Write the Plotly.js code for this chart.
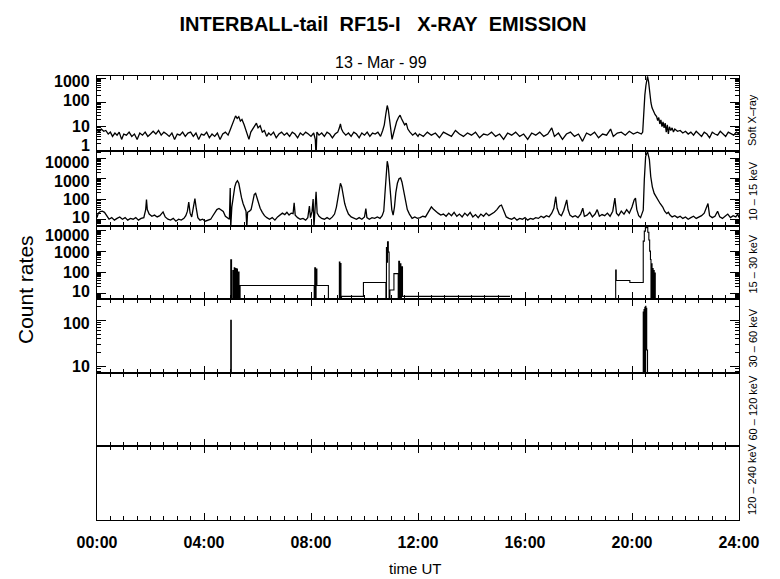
<!DOCTYPE html>
<html><head><meta charset="utf-8">
<script src="https://cdn.plot.ly/plotly-3.0.1.min.js"></script>
<style>html,body{margin:0;padding:0;background:#fff}#chart{width:780px;height:579px}</style>
</head><body><div id="chart"></div>
<script>
// ---- tick labels / categories ----
const hourTicks = [0,4,8,12,16,20,24];
const hourLabels = ['00:00','04:00','08:00','12:00','16:00','20:00','24:00'];
const bandNames = ['Soft X\u2013ray','10 \u2013 15 keV','15 \u2013 30 keV','30 \u2013 60 keV','60 \u2013 120 keV','120 \u2013 240 keV'];
const softTicks = [1,10,100,1000];
const lowTicks = [10,100,1000,10000];
const midTicks = [10,100,1000,10000];
const highTicks = [10,100];

// ---- Soft X-ray (hours, counts) ----
const softT = [0.00,0.08,0.16,0.25,0.33,0.42,0.50,0.58,0.67,0.75,0.83,0.92,1.00,1.10,1.20,1.30,1.40,1.50,1.60,1.70,1.80,1.90,2.00,2.10,2.20,2.30,2.40,2.50,2.60,2.70,2.80,2.90,3.00,3.10,3.20,3.30,3.40,3.50,3.60,3.70,3.80,3.90,4.00,4.10,4.20,4.30,4.40,4.50,4.60,4.70,4.80,4.90,4.97,5.05,5.12,5.18,5.24,5.30,5.36,5.42,5.50,5.56,5.62,5.68,5.75,5.82,5.90,5.96,6.02,6.10,6.18,6.26,6.34,6.42,6.50,6.60,6.70,6.80,6.90,7.00,7.10,7.20,7.30,7.40,7.50,7.60,7.70,7.80,7.90,8.00,8.10,8.16,8.19,8.22,8.30,8.40,8.50,8.60,8.70,8.80,8.90,9.00,9.06,9.10,9.14,9.20,9.30,9.40,9.50,9.60,9.70,9.80,9.90,10.00,10.10,10.20,10.30,10.40,10.50,10.60,10.68,10.74,10.80,10.85,10.89,10.93,10.98,11.03,11.08,11.14,11.20,11.27,11.33,11.38,11.44,11.50,11.56,11.62,11.70,11.80,11.90,12.00,12.05,12.20,12.35,12.50,12.65,12.80,12.95,13.10,13.25,13.40,13.55,13.70,13.85,14.00,14.15,14.30,14.45,14.60,14.75,14.90,15.05,15.20,15.35,15.50,15.65,15.80,15.95,16.10,16.25,16.40,16.55,16.70,16.85,17.00,17.10,17.25,17.40,17.55,17.70,17.85,18.00,18.15,18.30,18.45,18.60,18.75,18.90,19.05,19.20,19.30,19.45,19.60,19.75,19.90,20.05,20.20,20.35,20.40,20.44,20.48,20.52,20.58,20.62,20.65,20.68,20.71,20.75,20.80,20.86,20.92,20.96,21.00,21.04,21.08,21.12,21.16,21.20,21.24,21.28,21.32,21.36,21.40,21.45,21.50,21.55,21.60,21.70,21.80,21.90,22.00,22.10,22.20,22.30,22.40,22.50,22.60,22.70,22.80,22.90,23.00,23.10,23.20,23.30,23.40,23.50,23.60,23.70,23.80,23.90,24.00];
const softV = [7,6,8,6.5,7,5,6,4,5.5,4.5,6,3,5,4.5,6,4,5,3,5.5,4.5,6,4,5,6.5,5,7,4.5,6,5,4,5.5,3,5,4.5,6,4,5.5,6,4,5.5,3,5,4.5,6,3.5,5,4,5.5,3,5,6,4.5,7,12,20,28,22,26,17,20,12,8,5,3,6,8,11,14,9,11,6,7,4,5.5,4.5,6,3.5,5,6,4.5,5.5,4,6,5,3.5,5.5,4.5,6,5,4,5.5,3,0.6,6,4.5,5.5,4,6,5,3.5,5,6,9,13,8,6,4.5,5.5,4,6,5,3.5,5.5,4.5,6,4,5.5,5,6,4,7,12,35,75,50,25,9,3,5,9,16,24,30,22,16,12,14,8,6,4.5,5.5,4,5,4,6,4.5,5.5,3.5,6,5,4,7,5,4,5.5,4.5,6,3.5,5,4.5,6,4,5,3,5.5,4.5,6,4,5,3,5.5,4.5,6,4,5,9,4,5.5,3,5,6,4,5,2.5,5.5,4.5,6,3.5,5,4.5,8,4,5.5,6,4.5,6.5,5,6,5,6,50,200,500,1200,700,330,180,95,60,42,32,26,18,24,13,19,10,16,9,14,6,12,5,10,7,9,6,8,6.5,7,5.5,6.5,5,6,4.5,6.5,5,4,6,5,3.5,6,5,4.5,6.5,5,4,6,5,4.5,6,5];

// ---- 10 - 15 keV ----
const lowT = [0.00,0.05,0.12,0.20,0.28,0.36,0.45,0.55,0.65,0.75,0.85,0.95,1.05,1.15,1.25,1.35,1.45,1.55,1.65,1.75,1.82,1.85,1.88,1.95,2.05,2.15,2.25,2.35,2.42,2.47,2.55,2.65,2.75,2.85,2.95,3.05,3.15,3.25,3.32,3.38,3.43,3.48,3.54,3.60,3.66,3.71,3.77,3.85,3.95,4.05,4.15,4.25,4.32,4.40,4.48,4.56,4.64,4.72,4.80,4.88,4.95,4.98,5.00,5.04,5.10,5.15,5.20,5.25,5.30,5.35,5.40,5.46,5.52,5.57,5.60,5.63,5.70,5.76,5.82,5.88,5.93,5.98,6.04,6.10,6.18,6.26,6.35,6.45,6.55,6.65,6.75,6.85,6.93,7.02,7.10,7.18,7.26,7.33,7.37,7.41,7.50,7.60,7.70,7.80,7.88,7.94,7.98,8.04,8.08,8.11,8.15,8.19,8.23,8.30,8.40,8.50,8.60,8.70,8.80,8.88,8.95,9.00,9.05,9.10,9.15,9.20,9.26,9.33,9.40,9.50,9.60,9.70,9.80,9.90,10.00,10.05,10.09,10.18,10.28,10.38,10.48,10.58,10.66,10.72,10.76,10.80,10.85,10.89,10.93,10.97,11.02,11.07,11.12,11.17,11.23,11.29,11.35,11.40,11.45,11.50,11.55,11.60,11.68,11.78,11.88,11.98,12.08,12.18,12.28,12.36,12.44,12.50,12.57,12.65,12.75,12.85,12.95,13.05,13.15,13.25,13.35,13.45,13.55,13.65,13.75,13.85,13.95,14.05,14.15,14.25,14.35,14.45,14.55,14.65,14.75,14.85,14.95,15.05,15.12,15.20,15.30,15.40,15.50,15.60,15.70,15.80,15.90,16.00,16.10,16.20,16.30,16.40,16.50,16.60,16.70,16.80,16.90,17.00,17.08,17.15,17.20,17.28,17.36,17.45,17.52,17.56,17.61,17.68,17.78,17.88,17.98,18.08,18.16,18.22,18.32,18.42,18.52,18.62,18.70,18.78,18.88,18.98,19.08,19.18,19.28,19.36,19.42,19.50,19.60,19.70,19.80,19.90,20.00,20.08,20.13,20.18,20.25,20.32,20.38,20.42,20.46,20.51,20.58,20.65,20.70,20.76,20.83,20.92,21.05,21.15,21.22,21.30,21.36,21.42,21.50,21.60,21.70,21.80,21.90,22.00,22.10,22.20,22.30,22.40,22.50,22.60,22.70,22.78,22.84,22.90,23.00,23.10,23.20,23.28,23.38,23.48,23.58,23.68,23.78,23.88,23.95,24.00];
const lowV = [12,20,24,25,22,14,10,12,9,11,13,10,12,9,11,10,12,9,11,12,30,95,30,18,14,16,13,15,20,23,13,10,9,11,8,10,9,11,15,25,70,20,13,40,105,35,12,9,10,8,9,10,14,22,30,34,28,24,14,11,10,350,4,40,150,400,650,800,600,250,120,60,35,25,4,22,25,30,70,170,190,120,60,35,22,15,12,10,12,9,13,16,20,17,22,16,20,19,65,16,12,10,11,9,12,45,12,25,100,4,60,230,20,14,11,10,12,10,13,18,40,120,350,600,400,150,60,30,18,13,11,10,12,10,13,34,12,10,12,11,13,11,15,25,150,1500,7400,4000,800,120,30,16,40,200,600,1000,1100,700,300,120,60,30,18,11,13,11,12,14,13,20,33,41,32,25,20,16,18,14,20,15,22,14,18,13,20,15,22,13,17,12,18,14,20,15,18,22,30,45,50,25,13,11,10,12,9,11,10,12,9,11,10,12,11,14,12,15,13,20,35,130,35,18,15,28,60,90,30,16,13,15,12,18,35,14,16,22,13,18,30,14,17,15,20,14,25,110,20,15,25,18,30,20,40,90,110,30,15,12,20,28,900,13000,22000,9000,1300,400,190,110,60,40,25,19,22,16,13,15,12,14,11,13,10,12,14,11,13,15,20,40,60,15,12,14,25,13,11,14,18,12,15,13,18,12];

// ---- 15 - 30 keV (step data) ----
const midT = [4.98,5.00,5.03,5.08,5.10,5.13,5.15,5.18,5.20,5.23,5.25,5.28,5.31,5.35,8.12,8.14,8.17,8.19,8.22,8.65,9.06,9.08,9.10,9.12,9.14,9.96,10.80,10.82,10.84,10.86,10.89,10.92,10.95,11.10,11.26,11.28,11.31,11.33,11.36,11.38,11.42,15.44,15.45,19.37,19.39,19.41,19.92,20.42,20.46,20.50,20.55,20.59,20.63,20.66,20.69,20.71,20.73,20.75,20.77,20.79,20.81,20.83,20.85,20.87,20.89];
const midV = [1,390,1,120,1,160,1,150,1,140,1,100,1,23,1,160,1,140,23,1,300,1,260,1,7,32,1,1500,300,2800,900,1,14,85,1,330,1,250,1,180,7,7,null,1,125,40,32,3000,9000,13000,14000,8000,3400,1000,400,1,250,1,150,1,120,1,90,1,null];

// ---- 30 - 60 keV (step data) ----
const highT = [4.98,5.00,5.02,20.42,20.43,20.45,20.46,20.48,20.49,20.51,20.52,20.55,20.58,20.60];
const highV = [1,100,1,150,1,170,1,190,1,200,180,23,1,null];

const yRanges = [[0,3.09],[0.665,4.375],[0.72,4.2],[0.866,2.456]];
const tickSets = [softTicks, lowTicks, midTicks, highTicks];

// ---- layout constants (pixels) ----
const panelEdges = [76,151,226,299,373,446,520];   // panel borders, top to bottom
const PLOT_BOTTOM = 520, PLOT_H = 444;
const labelNudge = [[6,0,1.5,-3.8],[2.2,0,-2.2,-4.4],[2,0,-1.8,-4.8],[0,-3.7]];

const FONT = 'Liberation Sans, Arial, Helvetica, sans-serif';
const black = '#000';
const traces = [
  {x: softT, y: softV, xaxis:'x', yaxis:'y', mode:'lines', line:{color:black,width:1.3}},
  {x: lowT, y: lowV, xaxis:'x2', yaxis:'y2', mode:'lines', line:{color:black,width:1.3}},
  {x: midT, y: midV, xaxis:'x3', yaxis:'y3', mode:'lines', line:{color:black,width:1.1,shape:'hv'}, connectgaps:false},
  {x: highT, y: highV, xaxis:'x4', yaxis:'y4', mode:'lines', line:{color:black,width:1.1,shape:'hv'}, connectgaps:false},
  {x: [], y: [], xaxis:'x5', yaxis:'y5', mode:'lines'},
  {x: [], y: [], xaxis:'x6', yaxis:'y6', mode:'lines'}
];

const py = y => (PLOT_BOTTOM - y) / PLOT_H;
const px = x => (x - 97) / 642;

const layout = {
  width:780, height:579,
  margin:{l:97, r:41, t:76, b:59},
  paper_bgcolor:'#fff', plot_bgcolor:'#fff',
  showlegend:false,
  font:{family:FONT, color:black},
  title:{text:'INTERBALL-tail\u00a0\u00a0RF15-I\u00a0\u00a0\u00a0X-RAY\u00a0\u00a0EMISSION',
         font:{family:FONT, size:20, weight:'bold', color:black},
         xref:'container', x:383/780, xanchor:'center', yref:'container', y:1-24/579, yanchor:'middle'},
  annotations:[
    {text:'13 - Mar - 99', xref:'paper', yref:'paper', x:px(381), y:py(62), xanchor:'center', yanchor:'middle', showarrow:false, font:{family:FONT,size:16,color:black}},
    {text:'Count rates', xref:'paper', yref:'paper', x:px(25), y:py(290), xanchor:'center', yanchor:'middle', textangle:-90, showarrow:false, font:{family:FONT,size:21,color:black}},
    {text:'time UT', xref:'paper', yref:'paper', x:px(415), y:py(568), xanchor:'center', yanchor:'middle', showarrow:false, font:{family:FONT,size:15,color:black}}
  ]
};

for (let i = 0; i < 6; i++) {
  const sfx = i === 0 ? '' : String(i+1);
  const top = py(panelEdges[i]), bot = py(panelEdges[i+1]);
  layout['xaxis'+sfx] = {
    domain:[0,1], range:[0,24], anchor:'y'+sfx,
    tickmode:'array', tickvals:hourTicks, ticktext:hourLabels,
    showticklabels: i === 5,
    ticks:'inside', ticklen:7, tickwidth:1, tickcolor:black,
    minor:{tickmode:'linear', tick0:0, dtick:0.5, ticks:'inside', ticklen:4, tickwidth:1, tickcolor:black},
    tickfont:{family:FONT, size:16, weight:'bold', color:black},
    ticklabelstandoff:8,
    showline:true, linecolor:black, linewidth:1, mirror:'ticks',
    showgrid:false, zeroline:false, fixedrange:true
  };
  if (i > 0) layout['xaxis'+sfx].matches = 'x';
  if (i < 4) {
    layout['yaxis'+sfx] = {
      domain:[bot, top], type:'log', range:yRanges[i], anchor:'x'+sfx,
      tickmode:'linear', tick0:0, dtick:1, showticklabels:false,
      ticks:'inside', ticklen:9, tickwidth:1, tickcolor:black,
      minor:{ticks:'inside', ticklen:4, tickwidth:1, tickcolor:black, dtick:'D1'},
      showline:true, linecolor:black, linewidth:1, mirror:'ticks',
      showgrid:false, zeroline:false, fixedrange:true
    };
    tickSets[i].forEach((v, k) => {
      layout.annotations.push({
        text: String(v), xref:'paper', yref:'y'+sfx, x:0, y:Math.log10(v),
        xanchor:'right', yanchor:'middle', xshift:-5, yshift:labelNudge[i][k],
        showarrow:false, font:{family:FONT, size:16, weight:'bold', color:black}
      });
    });
  } else {
    layout['yaxis'+sfx] = {
      domain:[bot, top], range:[0,1], anchor:'x'+sfx,
      showticklabels:false, ticks:'',
      showline:true, linecolor:black, linewidth:1, mirror:true,
      showgrid:false, zeroline:false, fixedrange:true
    };
  }
  layout.annotations.push({
    text: bandNames[i], xref:'paper', yref:'paper', x:px(752), y:bot,
    xanchor:'center', yanchor:'bottom', yshift:3, textangle:-90, showarrow:false,
    font:{family:FONT, size:11, color:black}
  });
}

Plotly.newPlot('chart', traces, layout, {staticPlot:true, displayModeBar:false});
</script>
</body></html>
